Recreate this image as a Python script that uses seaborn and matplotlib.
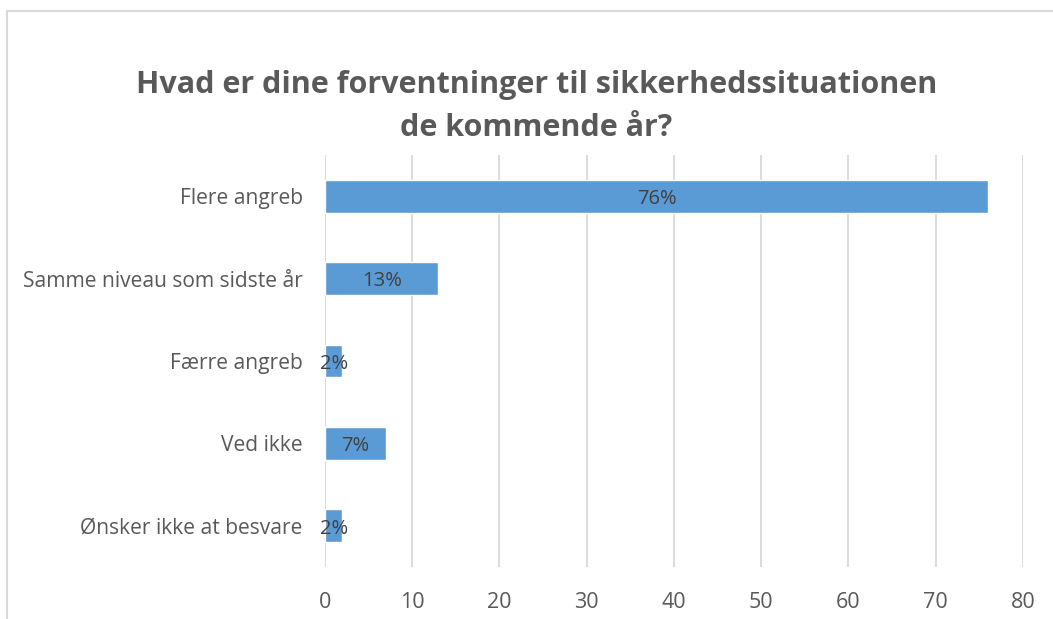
import pandas as pd
import matplotlib
matplotlib.use('Agg')
import matplotlib.pyplot as plt
import seaborn as sns

# data
categories = ['Flere angreb', 'Samme niveau som sidste år', 'Færre angreb', 'Ved ikke', 'Ønsker ikke at besvare']
values = [76, 13, 2, 7, 2]
bar_labels = ['76%', '13%', '2%', '7%', '2%']
x_ticks = [0, 10, 20, 30, 40, 50, 60, 70, 80]

df = pd.DataFrame({'svar': categories, 'pct': values})

sns.set_theme(style='white')
plt.rcParams['font.family'] = ['Open Sans', 'DejaVu Sans']

fig = plt.figure(figsize=(10.53, 6.19), dpi=100)
ax = fig.add_axes([0.3086, 0.0840, 0.6629, 0.6656])

sns.barplot(data=df, x='pct', y='svar', color='#5B9BD5', width=0.4, saturation=1, ax=ax)

txts = ax.bar_label(ax.containers[0], labels=bar_labels, label_type='center', fontsize=14.5, color='#404040')
for t in txts:
    t.xyann = (0, -2)  # labels sit a bit low in the original

ax.set_xlim(0, 80)
ax.set_ylim(4.5, -0.5)
ax.set_xticks(x_ticks)
ax.xaxis.grid(True, color='#D9D9D9', linewidth=1.3)
ax.set_axisbelow(True)
ax.set_xlabel('')
ax.set_ylabel('')
for s in ax.spines.values():
    s.set_visible(False)
ax.tick_params(axis='x', colors='#595959', labelsize=15.5, length=0, pad=18)
ax.tick_params(axis='y', colors='#595959', labelsize=15.1, length=0, pad=16)

fig.text(0.5095, 0.828, 'Hvad er dine forventninger til sikkerhedssituationen\nde kommende år?',
         ha='center', va='center', fontsize=22, fontweight='bold', color='#595959', linespacing=1.55)

# chart border (cropped)
fig.add_artist(plt.Line2D([7 / 1053, 7 / 1053], [0, 1 - 11 / 619], transform=fig.transFigure, color='#D9D9D9', linewidth=1.5))
fig.add_artist(plt.Line2D([7 / 1053, 1], [1 - 11 / 619, 1 - 11 / 619], transform=fig.transFigure, color='#D9D9D9', linewidth=1.5))

fig.savefig('out.png', dpi=100)
